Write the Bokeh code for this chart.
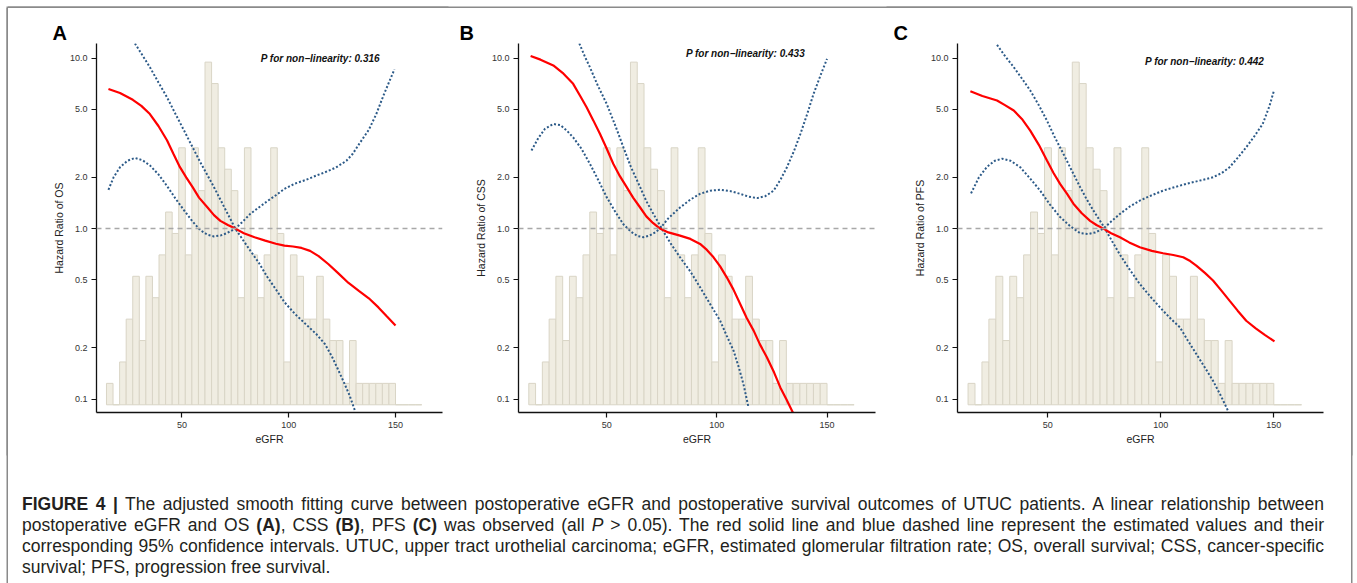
import numpy as np
from bokeh.plotting import figure
from bokeh.models import (Range1d, LinearScale, FixedTicker, PrintfTickFormatter,
                          Span, Label, Div)
from bokeh.layouts import row, column
from bokeh.embed import file_html
from bokeh.resources import INLINE

FONT = "Liberation Sans"

# ---------------- data ----------------
# eGFR histogram (counts per bin)
bin_start = 14.67
bin_width = 3.0757
hist_counts = [1, 0, 2, 4, 6, 3, 6, 5, 7, 9, 8, 12, 7, 12, 10, 16, 15, 12, 11, 10,
               5, 12, 7, 5, 7, 12, 8, 2, 7, 6, 4, 4, 6, 4, 3, 3, 1, 3, 1, 1,
               1, 1, 1, 1, 0, 0, 0, 0]

x_ticks = [50, 100, 150]
y_ticks = [0.1, 0.2, 0.5, 1.0, 2.0, 5.0, 10.0]

# Panel A (OS)
a_est_x = [15.6, 21, 27, 31, 35, 39, 43, 46, 49, 52, 55, 58, 62, 65, 68, 71.5, 75, 79, 84, 89,
           94, 98, 102, 106, 110, 114, 118.5, 123, 128, 133, 137.5, 142, 146, 150]
a_est_hr = [6.6, 6.25, 5.7, 5.25, 4.7, 4.0, 3.3, 2.75, 2.3, 2.0, 1.75, 1.52, 1.33, 1.2, 1.11, 1.05,
            1.0, 0.94, 0.89, 0.85, 0.815, 0.795, 0.785, 0.77, 0.74, 0.69, 0.62, 0.55, 0.48, 0.43,
            0.39, 0.345, 0.305, 0.27]
a_ci1_x = [15.6, 18, 21, 24.5, 28, 31.5, 35, 39, 43, 47, 51, 55, 58.6, 62, 65, 68, 71, 75, 78.5,
           82, 86, 90, 94, 98, 103, 108, 113, 117, 122, 127, 130, 133, 137.5, 141, 144.5, 147.5, 149.5]
a_ci1_hr = [1.69, 2.0, 2.29, 2.5, 2.6, 2.52, 2.35, 2.08, 1.78, 1.5, 1.28, 1.1, 0.98, 0.92, 0.9,
            0.91, 0.94, 1.0, 1.1, 1.22, 1.33, 1.45, 1.57, 1.71, 1.84, 1.93, 2.05, 2.14, 2.28, 2.5,
            2.75, 3.14, 3.8, 4.7, 6.1, 7.5, 8.6]
a_ci2_x = [28, 31.5, 35, 39, 43, 47, 51, 55, 58.6, 62, 65, 68, 71, 75, 78.5, 82, 86, 90, 94, 98,
           103, 108, 113, 117, 120, 123, 126, 128.5, 131]
a_ci2_hr = [12.2, 10.4, 8.85, 7.2, 5.9, 4.7, 3.76, 3.0, 2.45, 2.05, 1.75, 1.48, 1.25, 1.0, 0.86,
            0.743, 0.63, 0.52, 0.44, 0.37, 0.315, 0.275, 0.24, 0.21, 0.18, 0.15, 0.124, 0.105, 0.0855]

# Panel B (CSS)
b_est_x = [15.5, 20, 25.8, 30, 34.8, 38, 40.9, 44, 47, 50, 53, 56, 59.1, 62, 65.2, 68, 71, 74.2,
           78, 83.3, 88, 92.4, 95.5, 98.5, 101.5, 104.5, 107.5, 110.6, 113.5, 116.7, 119.5,
           122.7, 126, 128.8, 131.5, 134.5]
b_est_hr = [10.3, 9.8, 9.06, 8.2, 7.07, 6.0, 5.15, 4.3, 3.59, 2.95, 2.4, 2.03, 1.75, 1.52, 1.33,
            1.18, 1.08, 1.0, 0.95, 0.91, 0.87, 0.813, 0.75, 0.679, 0.6, 0.518, 0.44, 0.361, 0.3,
            0.252, 0.21, 0.176, 0.143, 0.117, 0.1, 0.0835]
b_ci1_x = [15.9, 19, 22, 25.8, 29, 32, 34.8, 38.5, 42.4, 46, 50, 54, 57.6, 61, 64, 66.7, 69.5, 72,
           74.2, 78, 83.3, 88, 92.4, 97, 101.5, 106, 110.6, 114.5, 118.2, 122, 125.8, 129, 131.8,
           135, 137.9, 141, 143.9, 147, 150]
b_ci1_hr = [2.87, 3.4, 3.85, 4.11, 4.05, 3.75, 3.43, 2.95, 2.4, 1.95, 1.53, 1.25, 1.06, 0.96,
            0.905, 0.89, 0.91, 0.95, 1.0, 1.15, 1.33, 1.48, 1.6, 1.67, 1.69, 1.66, 1.6, 1.54, 1.51,
            1.55, 1.67, 1.95, 2.29, 2.85, 3.59, 4.7, 6.18, 7.9, 9.9]
b_ci2_x = [37.6, 40, 42.4, 46, 50, 54, 57.6, 61, 65.2, 68, 71.2, 75, 79, 83.3, 88, 92.4, 97, 101.5,
           104.5, 107.6, 110, 112.1, 114.4]
b_ci2_hr = [12.2, 10.3, 8.85, 6.9, 5.4, 4.0, 3.0, 2.3, 1.75, 1.45, 1.22, 1.0, 0.82, 0.679, 0.56,
            0.453, 0.36, 0.288, 0.235, 0.192, 0.153, 0.122, 0.089]

# Panel C (PFS)
c_est_x = [15.7, 21, 27.5, 31, 34.9, 38.5, 42.2, 46, 49.6, 52.5, 55.4, 58.5, 61.3, 65, 68.7, 71.5,
           74.6, 78, 81.9, 86, 90.7, 96, 101, 105.5, 109.9, 113, 115.7, 119.5, 123.1, 127, 130.4,
           134, 137.8, 142, 146, 150.3]
c_est_hr = [6.4, 6.0, 5.64, 5.3, 4.93, 4.4, 3.76, 3.1, 2.51, 2.12, 1.83, 1.6, 1.4, 1.23, 1.11, 1.05,
            1.0, 0.94, 0.889, 0.83, 0.777, 0.74, 0.717, 0.7, 0.679, 0.645, 0.607, 0.55, 0.496,
            0.43, 0.378, 0.33, 0.288, 0.26, 0.238, 0.218]
c_ci1_x = [16, 19.5, 23, 26.5, 29.7, 33.5, 37.8, 42, 46.6, 51, 55.4, 60, 64.3, 67.9, 71, 74.6, 78,
           81.9, 86, 90.7, 96, 101, 106, 111.3, 117, 123.1, 127, 130.4, 134, 137.8, 141.5, 145.1,
           148, 150]
c_ci1_hr = [1.61, 2.0, 2.3, 2.5, 2.57, 2.5, 2.29, 1.98, 1.67, 1.38, 1.17, 1.03, 0.94, 0.93, 0.95,
            1.0, 1.1, 1.22, 1.34, 1.46, 1.57, 1.67, 1.75, 1.83, 1.91, 2.0, 2.12, 2.29, 2.6, 3.0,
            3.5, 4.11, 5.2, 6.4]
c_ci2_x = [27.5, 31, 34.9, 38.5, 42.2, 46, 49.6, 53, 56.9, 60.5, 64.3, 67, 70.1, 75.3, 78.5, 81.9,
           86, 90.7, 96, 101, 104.5, 108.4, 112, 115.7, 119.5, 123.1, 126.5, 129.7]
c_ci2_hr = [11.97, 10.3, 8.85, 7.6, 6.46, 5.3, 4.3, 3.45, 2.74, 2.2, 1.75, 1.5, 1.28, 1.0, 0.84,
            0.703, 0.58, 0.473, 0.39, 0.33, 0.295, 0.264, 0.22, 0.184, 0.153, 0.128, 0.105, 0.0855]

BORDER = "#8a8a8a"
panels = [
    dict(letter="A", ylabel="Hazard Ratio of OS", ptext="P for non\u2212linearity: 0.316",
         px=114.8, py=10.0, fw=346, ml=88, mr=8, loff=-44,
         shadow=f"0 -1.5px 0 0 {BORDER}, -1.5px 0 0 0 {BORDER}, -1.5px -1.5px 0 0 {BORDER}",
         est=(a_est_x, a_est_hr), ci1=(a_ci1_x, a_ci1_hr), ci2=(a_ci2_x, a_ci2_hr)),
    dict(letter="B", ylabel="Hazard Ratio of CSS", ptext="P for non\u2212linearity: 0.433",
         px=113.0, py=10.6, fw=357, ml=68, mr=10, loff=-59,
         shadow=f"0 -1.5px 0 0 {BORDER}",
         est=(b_est_x, b_est_hr), ci1=(b_ci1_x, b_ci1_hr), ci2=(b_ci2_x, b_ci2_hr)),
    dict(letter="C", ylabel="Hazard Ratio of PFS", ptext="P for non\u2212linearity: 0.442",
         px=119.4, py=9.56, fw=366, ml=72, mr=28, loff=-64,
         shadow=f"0 -1.5px 0 0 {BORDER}, 1.5px 0 0 0 {BORDER}, 1.5px -1.5px 0 0 {BORDER}",
         est=(c_est_x, c_est_hr), ci1=(c_ci1_x, c_ci1_hr), ci2=(c_ci2_x, c_ci2_hr)),
]

FRAME_H = 369
Y_LO, Y_HI = 0.0834, 12.19


def make_panel(cfg):
    p = figure(frame_width=cfg["fw"], frame_height=FRAME_H,
               x_range=Range1d(10, 172), y_range=Range1d(Y_LO, Y_HI),
               y_axis_type="log", output_backend="svg", toolbar_location=None,
               min_border_left=cfg["ml"], min_border_right=cfg["mr"],
               min_border_top=35, min_border_bottom=45, margin=0,
               styles={"box-shadow": cfg["shadow"]})
    p.outline_line_color = None
    p.grid.visible = False
    p.background_fill_color = "white"
    p.border_fill_color = "white"
    p.extra_y_ranges = {"cnt": Range1d(-0.36, 16.87)}
    p.extra_y_scales = {"cnt": LinearScale()}

    # panel letter as the figure title
    p.title.text = cfg["letter"]
    p.title.text_font = FONT
    p.title.text_font_size = "20px"
    p.title.text_font_style = "bold"
    p.title.text_color = "#000000"
    p.title.align = "left"
    p.title.offset = cfg["loff"]
    p.title.standoff = 0
    p.title.vertical_align = "bottom"

    n = len(hist_counts)
    lefts = [bin_start + i * bin_width for i in range(n)]
    rights = [l + bin_width for l in lefts]
    p.quad(left=lefts, right=rights, top=hist_counts, bottom=[0] * n,
           fill_color="#F0EDE2", line_color="#D9D5C6", line_width=1,
           y_range_name="cnt")

    p.add_layout(Span(location=1.0, dimension="width", line_color="#A8A8A8",
                      line_dash="5 4", line_width=1.5))

    for key in ("ci1", "ci2"):
        xs, ys = cfg[key]
        p.line(xs, ys, line_color="#2C5A88", line_width=2, line_dash="2 2")
    xs, ys = cfg["est"]
    p.line(xs, ys, line_color="#FF0000", line_width=2.2)

    p.xaxis.ticker = FixedTicker(ticks=x_ticks)
    p.yaxis.ticker = FixedTicker(ticks=y_ticks)
    p.yaxis.formatter = PrintfTickFormatter(format="%.1f")
    p.xaxis.axis_label = "eGFR"
    p.yaxis.axis_label = cfg["ylabel"]
    for ax in p.axis:
        ax.axis_label_text_font = FONT
        ax.axis_label_text_font_style = "normal"
        ax.axis_label_text_font_size = "10.5px"
        ax.axis_label_text_color = "#222222"
        ax.major_label_text_font = FONT
        ax.major_label_text_font_size = "9px"
        ax.major_label_text_color = "#333333"
        ax.major_tick_out = 5
        ax.major_tick_in = 0
        ax.minor_tick_line_color = None
        ax.axis_line_color = "#111111"
        ax.axis_line_width = 1.3
        ax.major_tick_line_color = "#111111"
        ax.major_tick_line_width = 1.2
        ax.major_label_standoff = 4
        ax.axis_label_standoff = 2

    p.add_layout(Label(x=cfg["px"], y=cfg["py"], text=cfg["ptext"],
                       text_font=FONT, text_font_size="10px",
                       text_font_style="bold italic", text_color="#111111",
                       text_align="center", text_baseline="middle"))
    return p


figs = [make_panel(c) for c in panels]

line_style = "text-align:justify; text-align-last:justify; height:21px; overflow:visible;"
caption_html = (
    '<div style="padding:37px 0 0 14px; width:1316px; font-family:\'Liberation Sans\', Arial, sans-serif; '
    'font-size:17.5px; line-height:21px; color:#231f20;">'
    f'<div style="{line_style}"><b>FIGURE 4 |</b> The adjusted smooth fitting curve between postoperative eGFR and '
    'postoperative survival outcomes of UTUC patients. A linear relationship between</div>'
    f'<div style="{line_style}">postoperative eGFR and OS <b>(A)</b>, CSS <b>(B)</b>, PFS <b>(C)</b> was observed '
    '(all <i>P</i> &gt; 0.05). The red solid line and blue dashed line represent the estimated '
    'values and their</div>'
    f'<div style="{line_style}">corresponding 95% confidence intervals. UTUC, upper tract urothelial carcinoma; eGFR, '
    'estimated glomerular filtration rate; OS, overall survival; CSS, cancer&#8209;specific</div>'
    '<div style="height:21px;">survival; PFS, progression free survival.</div>'
    '</div>'
)
caption = Div(text=caption_html, width=1343, height=132, margin=0,
              styles={"box-shadow": f"-1.5px 0 0 0 {BORDER}, 1.5px 0 0 0 {BORDER}"})

layout = column(row(*figs, margin=0), caption, width=1343, sizing_mode="fixed",
                margin=(8, 0, 0, 8))

open("out.html", "w").write(file_html(layout, INLINE))
